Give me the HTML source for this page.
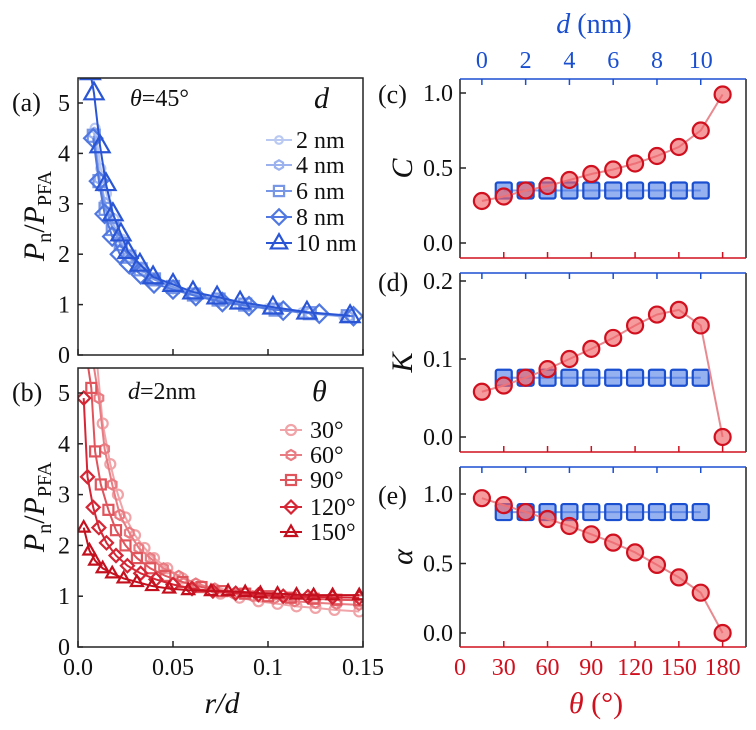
<!DOCTYPE html>
<html><head><meta charset="utf-8"><style>
body{margin:0;background:#fff;}
svg{display:block;}
svg text{font-family:"Liberation Serif","DejaVu Serif","Times New Roman",serif;}
</style></head><body>
<svg id="fig" width="756" height="730" viewBox="0 0 756 730" font-family="Liberation Serif, DejaVu Serif, serif"></svg>
<script>
// ---- data panel (a) ----
const aLabels=["2 nm","4 nm","6 nm","8 nm","10 nm"];
const aRd2=[0.009,0.012,0.015,0.019,0.023,0.028,0.034,0.041,0.05,0.06,0.072,0.085,0.1,0.118,0.14];
const aP2=[4.5,3.7,3.2,2.7,2.3,2.0,1.75,1.5,1.35,1.2,1.1,1.0,0.92,0.84,0.76];
const aRd4=[0.0085,0.0115,0.0145,0.0185,0.0225,0.027,0.033,0.04,0.05,0.061,0.074,0.088,0.104,0.122,0.142];
const aP4=[4.4,3.5,3.0,2.6,2.25,1.95,1.72,1.5,1.33,1.2,1.08,0.98,0.9,0.83,0.76];
const aRd6=[0.0083,0.0113,0.0145,0.0183,0.0225,0.027,0.033,0.04,0.05,0.061,0.074,0.088,0.104,0.122,0.142];
const aP6=[4.35,3.45,2.9,2.5,2.2,1.95,1.7,1.5,1.35,1.2,1.1,1.0,0.9,0.83,0.77];
const aRd8=[0.008,0.011,0.014,0.018,0.022,0.027,0.033,0.04,0.05,0.062,0.076,0.09,0.108,0.127,0.145];
const aP8=[4.3,3.45,2.8,2.35,2.0,1.8,1.6,1.42,1.3,1.17,1.05,0.97,0.88,0.82,0.77];
const aRd10=[0.0065,0.0084,0.0116,0.0147,0.0184,0.0226,0.0263,0.0326,0.0395,0.05,0.0605,0.0732,0.0853,0.1026,0.1205,0.1432];
const aP10=[5.6,5.2,4.15,3.4,2.8,2.4,2.05,1.8,1.55,1.4,1.25,1.15,1.05,0.95,0.85,0.78];
// ---- data panel (b) ----
const bLabels=["30°","60°","90°","120°","150°"];
const bRd30=[0.010,0.013,0.017,0.021,0.025,0.03,0.035,0.04,0.047,0.055,0.065,0.075,0.085,0.095,0.105,0.115,0.125,0.135,0.148];
const bP30=[5.6,4.4,3.6,3.0,2.55,2.2,1.95,1.75,1.55,1.35,1.2,1.05,0.97,0.9,0.85,0.8,0.77,0.73,0.7];
const bRd60=[0.008,0.011,0.014,0.018,0.022,0.027,0.032,0.038,0.045,0.053,0.062,0.072,0.082,0.092,0.103,0.114,0.125,0.136,0.148];
const bP60=[5.6,4.9,3.9,3.2,2.6,2.25,1.95,1.75,1.55,1.4,1.25,1.15,1.05,1.0,0.95,0.9,0.87,0.85,0.83];
const bRd90=[0.005,0.007,0.009,0.012,0.016,0.02,0.025,0.031,0.038,0.046,0.055,0.065,0.076,0.088,0.1,0.112,0.124,0.136,0.148];
const bP90=[5.6,5.1,3.85,3.2,2.7,2.3,2.0,1.75,1.55,1.4,1.28,1.18,1.1,1.05,1.0,0.97,0.95,0.93,0.92];
const bRd120=[0.003,0.005,0.008,0.011,0.015,0.02,0.026,0.033,0.041,0.05,0.06,0.071,0.083,0.095,0.108,0.121,0.134,0.148];
const bP120=[4.9,3.35,2.75,2.35,2.05,1.8,1.6,1.45,1.33,1.23,1.15,1.1,1.06,1.03,1.0,0.99,0.98,0.97];
const bRd150=[0.003,0.006,0.009,0.013,0.018,0.024,0.031,0.039,0.048,0.058,0.07,0.079,0.088,0.096,0.105,0.115,0.124,0.134,0.148];
const bP150=[2.35,1.9,1.7,1.55,1.45,1.35,1.28,1.2,1.15,1.12,1.1,1.1,1.08,1.06,1.05,1.03,1.02,1.02,1.02];
// ---- data panels (c)(d)(e) ----
const thetaVals=[15,30,45,60,75,90,105,120,135,150,165,180];
const dVals=[1,2,3,4,5,6,7,8,9,10];
const cTheta=[0.28,0.31,0.35,0.38,0.42,0.46,0.49,0.53,0.58,0.64,0.75,0.99];
const cD=[0.35,0.35,0.35,0.35,0.35,0.35,0.35,0.35,0.35,0.35];
const kTheta=[0.058,0.066,0.076,0.087,0.1,0.113,0.127,0.143,0.157,0.163,0.143,0.0];
const kD=[0.076,0.076,0.076,0.076,0.076,0.076,0.076,0.076,0.076,0.076];
const eTheta=[0.97,0.92,0.87,0.82,0.77,0.71,0.65,0.58,0.49,0.4,0.29,0.0];
const eD=[0.87,0.87,0.87,0.87,0.87,0.87,0.87,0.87,0.87,0.87];
const rdTicks=["0.0","0.05","0.1","0.15"];
const thetaTicks=[0,30,60,90,120,150,180];
const dTicks=[0,2,4,6,8,10];

const NS="http://www.w3.org/2000/svg";
const FONT='"Liberation Serif", "DejaVu Serif", serif';
const svg=document.getElementById('fig');
function mk(tag,attrs,parent){const e=document.createElementNS(NS,tag);for(const k in attrs)e.setAttribute(k,attrs[k]);(parent||svg).appendChild(e);return e;}
function txt(s,x,y,size,anchor,fill,style,parent){const t=mk('text',{x:x,y:y,'font-size':size,'text-anchor':anchor||'start',fill:fill||'#111','font-family':FONT},parent);if(style)t.setAttribute('font-style',style);t.textContent=s;return t;}

const LX0=78,LX1=363;
const xr=v=>LX0+v*1900;
const yA=v=>355-v*50.4;
const yB=v=>647-v*50.8;

function marker(g,shape,x,y,s,stroke,fill){
  let e;
  if(shape==='circle') e=mk('circle',{cx:x,cy:y,r:s},g);
  else if(shape==='square') e=mk('rect',{x:x-s,y:y-s,width:2*s,height:2*s},g);
  else if(shape==='diamond') e=mk('polygon',{points:`${x},${y-s*1.3} ${x+s*1.3},${y} ${x},${y+s*1.3} ${x-s*1.3},${y}`},g);
  else if(shape==='triangle') e=mk('polygon',{points:`${x},${y-s*1.3} ${x+s*1.2},${y+s*0.8} ${x-s*1.2},${y+s*0.8}`},g);
  else if(shape==='hex'){let p=[];for(let i=0;i<6;i++){const a=Math.PI/6+i*Math.PI/3;p.push((x+s*Math.cos(a))+','+(y+s*Math.sin(a)));}e=mk('polygon',{points:p.join(' ')},g);}
  e.setAttribute('fill',fill);e.setAttribute('stroke',stroke);e.setAttribute('stroke-width',2.2);
  return e;
}
function series(xs,ys,fx,fy,color,shape,s,name,clip){
  const g=mk('g',{'clip-path':clip});
  
  
  mk('polyline',{points:xs.map((v,i)=>fx(v)+','+fy(ys[i])).join(' '),fill:'none',stroke:color,'stroke-width':2},g);
  xs.forEach((v,i)=>{const m=marker(g,shape,fx(v),fy(ys[i]),s,color,'none');
    
    });
}
const defs=mk('defs',{});
const cpA=mk('clipPath',{id:'cpa'},defs);mk('rect',{x:LX0,y:78,width:285,height:277},cpA);
const cpB=mk('clipPath',{id:'cpb'},defs);mk('rect',{x:LX0,y:368,width:285,height:279},cpB);

const aCols=["#b9c9f2","#9cb2ee","#7896e6","#5078e0","#2a56d6"];
const aShapes=["circle","hex","square","diamond","triangle"];
const aSz=[4.5,5.5,6,7,8];
const aX=[aRd2,aRd4,aRd6,aRd8,aRd10],aY=[aP2,aP4,aP6,aP8,aP10];
for(let i=0;i<5;i++) series(aX[i],aY[i],xr,yA,aCols[i],aShapes[i],aSz[i],'series-'+aLabels[i].replace(' ','')+'-a','url(#cpa)');
const bCols=["#f0a4a8","#e87c82","#e0545c","#d42634","#c4101e"];
const bShapes=["circle","hex","square","diamond","triangle"];
const bX=[bRd30,bRd60,bRd90,bRd120,bRd150],bY=[bP30,bP60,bP90,bP120,bP150];
for(let i=0;i<5;i++) series(bX[i],bY[i],xr,yB,bCols[i],bShapes[i],5,'series-theta'+parseInt(bLabels[i])+'-b','url(#cpb)');

function frame(x,y,w,h,name){const r=mk('rect',{x:x,y:y,width:w,height:h,fill:'none',stroke:'#222','stroke-width':1.5});}
frame(LX0,78,285,277,'panel-a-frame');
frame(LX0,368,285,279,'panel-b-frame');
for(let v=0;v<=5;v++){
  mk('line',{x1:LX0,x2:LX0+5,y1:yA(v),y2:yA(v),stroke:'#222','stroke-width':1.5});
  const t=txt(String(v),70,yA(v)+8,24,'end');
  mk('line',{x1:LX0,x2:LX0+5,y1:yB(v),y2:yB(v),stroke:'#222','stroke-width':1.5});
  const t2=txt(String(v),70,yB(v)+8,24,'end');
}
rdTicks.forEach(s=>{const v=parseFloat(s);
  mk('line',{x1:xr(v),x2:xr(v),y1:355,y2:349,stroke:'#222','stroke-width':1.5});
  mk('line',{x1:xr(v),x2:xr(v),y1:647,y2:641,stroke:'#222','stroke-width':1.5});
  const t=txt(s,xr(v),675,24,'middle');});

txt('(a)',12,111,26);
txt('(b)',12,401,26);
function ytitle(cy,name){const g=mk('g',{transform:`translate(44,${cy}) rotate(-90)`});
  const t=mk('text',{x:0,y:0,'font-size':30,'text-anchor':'middle',fill:'#111','font-family':FONT},g);
  t.innerHTML='<tspan font-style="italic">P</tspan><tspan font-size="20" dy="7">n</tspan><tspan dy="-7">/</tspan><tspan font-style="italic">P</tspan><tspan font-size="20" dy="7">PFA</tspan>';}
ytitle(216,'y-axis-title-a');ytitle(507,'y-axis-title-b');
const ta=mk('text',{x:130,y:106,'font-size':24,fill:'#111','font-family':FONT});ta.innerHTML='<tspan font-style="italic">θ</tspan>=45°';
const tb=mk('text',{x:128,y:399,'font-size':24,fill:'#111','font-family':FONT});tb.innerHTML='<tspan font-style="italic">d</tspan>=2nm';
txt('d',314,108,30,'start','#111','italic');
txt('θ',312,401,30,'start','#111','italic');
const xt=txt('r/d',222,713,30,'middle','#111','italic');
const aLy=[140,165,191,217,243];
aLabels.forEach((l,i)=>{const g=mk('g',{});
  mk('line',{x1:266,x2:292,y1:aLy[i],y2:aLy[i],stroke:aCols[i],'stroke-width':2},g);
  marker(g,aShapes[i],279,aLy[i],aSz[i]*0.85,aCols[i],'none');
  txt(l,296,aLy[i]+8,24,'start','#111',null,g);});
const bLy=[430,455,480,507,532];
bLabels.forEach((l,i)=>{const g=mk('g',{});
  mk('line',{x1:280,x2:302,y1:bLy[i],y2:bLy[i],stroke:bCols[i],'stroke-width':2},g);
  marker(g,bShapes[i],291,bLy[i],5,bCols[i],'none');
  txt(l,310,bLy[i]+8,24,'start','#111',null,g);});

const RX0=460,RX1=746;
const xt_=t=>RX0+t*1.459;
const xd=d=>xt_(15+15*d);
const RED="#d0101e",BLUE="#1a4fd0";
function rpanel(top,bot,y0px,scale,ticks,fmt,redV,blueV,label,ytit,name){
  const fy=v=>y0px-v*scale;
  const g=mk('g',{});
  mk('polyline',{points:dVals.map((d,i)=>xd(d)+','+fy(blueV[i])).join(' '),fill:'none',stroke:'#7e9ee8','stroke-width':2},g);
  dVals.forEach((d,i)=>{const r=mk('rect',{x:xd(d)-8,y:fy(blueV[i])-8,width:16,height:16,rx:2,fill:'rgba(80,125,230,0.6)',stroke:BLUE,'stroke-width':2.2},g);
    });
  mk('polyline',{points:thetaVals.map((t,i)=>xt_(t)+','+fy(redV[i])).join(' '),fill:'none',stroke:'#e88a90','stroke-width':2},g);
  thetaVals.forEach((t,i)=>{const c=mk('circle',{cx:xt_(t),cy:fy(redV[i]),r:8,fill:'rgba(240,100,105,0.65)',stroke:RED,'stroke-width':2.2},g);
    });
  mk('line',{x1:RX0,x2:RX0,y1:top,y2:bot,stroke:'#222','stroke-width':1.5},g);
  mk('line',{x1:RX1,x2:RX1,y1:top,y2:bot,stroke:'#222','stroke-width':1.5},g);
  mk('line',{x1:RX0,x2:RX1,y1:top,y2:top,stroke:BLUE,'stroke-width':1.5},g);
  mk('line',{x1:RX0,x2:RX1,y1:bot,y2:bot,stroke:RED,'stroke-width':1.5},g);
  dTicks.forEach(d=>mk('line',{x1:xd(d),x2:xd(d),y1:top,y2:top+6,stroke:BLUE,'stroke-width':1.5},g));
  thetaTicks.slice(1).forEach(t=>mk('line',{x1:xt_(t),x2:xt_(t),y1:bot,y2:bot-6,stroke:RED,'stroke-width':1.5},g));
  ticks.forEach(v=>{mk('line',{x1:RX0,x2:RX0+6,y1:fy(v),y2:fy(v),stroke:'#222','stroke-width':1.5},g);
    txt(fmt(v),453,fy(v)+8,24,'end','#111',null,g);});
  txt(label,378,fy(ticks[ticks.length-1])+10,26,'start','#111',null,g);
  const yg=mk('g',{transform:`translate(412,${(top+bot)/2}) rotate(-90)`},g);
  txt(ytit,0,0,30,'middle','#111','italic',yg);
}
rpanel(79,258,243,150,[0,0.5,1.0],v=>v.toFixed(1),cTheta,cD,'(c)','C','panel-c');
rpanel(273,452,437,780,[0,0.1,0.2],v=>v.toFixed(1),kTheta,kD,'(d)','K','panel-d');
rpanel(467,647,633,139,[0,0.5,1.0],v=>v.toFixed(1),eTheta,eD,'(e)','α','panel-e');
dTicks.forEach(d=>{const t=txt(String(d),xd(d),68,24,'middle',BLUE);});
thetaTicks.forEach(t=>{const e=txt(String(t),xt_(t),675,24,'middle',RED);});
const dt=mk('text',{x:594,y:33,'font-size':28,'text-anchor':'middle',fill:BLUE,'font-family':FONT});dt.innerHTML='<tspan font-style="italic">d</tspan> (nm)';
const tt=mk('text',{x:596,y:713,'font-size':30,'text-anchor':'middle',fill:RED,'font-family':FONT});tt.innerHTML='<tspan font-style="italic">θ</tspan> (°)';
</script>
</body></html>
